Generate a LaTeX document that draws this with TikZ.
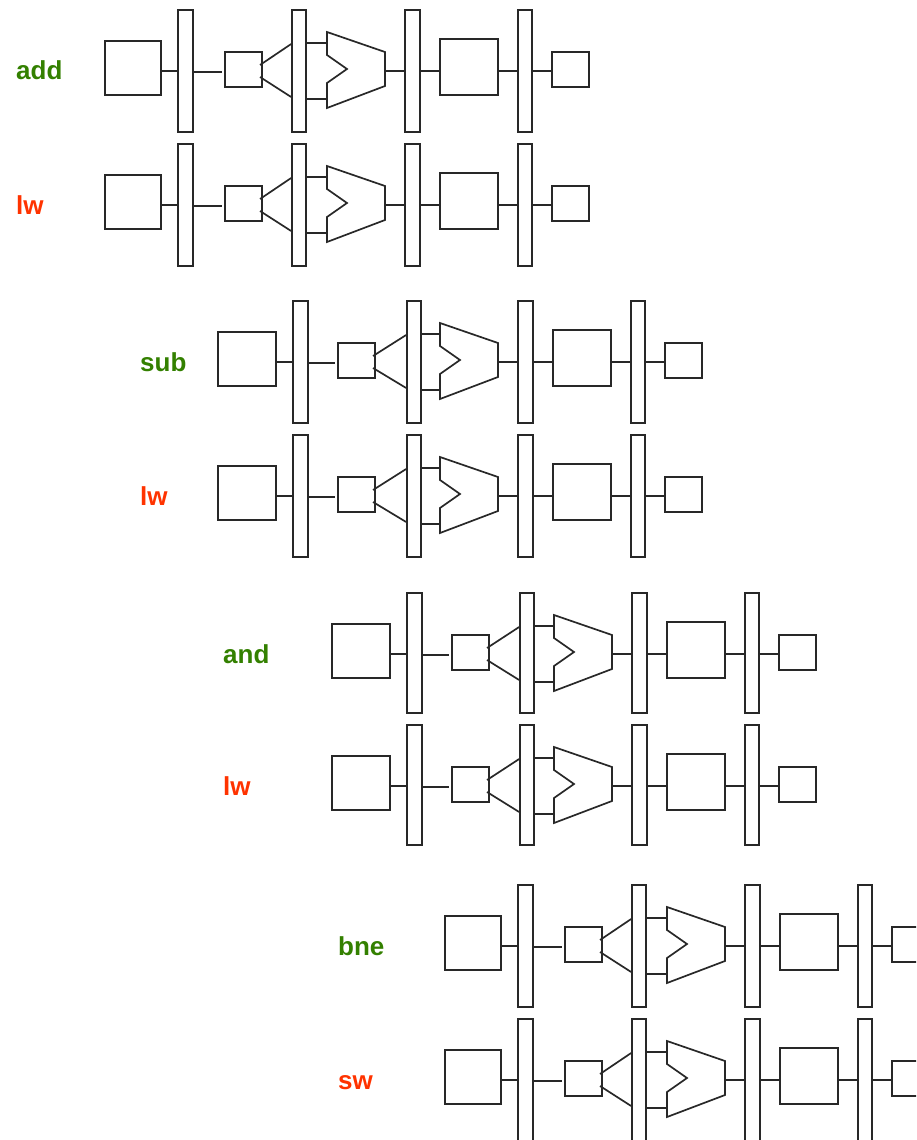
\documentclass[tikz,border=0pt]{standalone}
\usepackage{fontspec}
\setmainfont{Liberation Sans}
\usepackage{tikz}
\usetikzlibrary{positioning}
\definecolor{instgreen}{RGB}{51,128,0}
\definecolor{instred}{RGB}{255,51,0}
\definecolor{inkline}{RGB}{40,40,40}
\tikzstyle{wire} = [draw=inkline, line width=1.7pt]
\tikzstyle{pipebar} = [draw=inkline, line width=1.7pt, rectangle, inner sep=0pt, minimum width=14pt, minimum height=122pt, anchor=north]
\tikzstyle{widebar} = [pipebar, minimum width=15pt]
\tikzstyle{imbox} = [draw=inkline, line width=1.7pt, rectangle, inner sep=0pt, minimum width=56pt, minimum height=54pt, anchor=west]
\tikzstyle{dmbox} = [draw=inkline, line width=1.7pt, rectangle, inner sep=0pt, minimum width=58pt, minimum height=56pt]
\tikzstyle{smallbox} = [draw=inkline, line width=1.7pt, rectangle, inner sep=0pt, minimum width=37pt, minimum height=35pt]
\tikzstyle{firstinst} = [text=instgreen, font=\bfseries\fontsize{26}{26}\selectfont, inner sep=0pt, anchor=base west]
\tikzstyle{secondinst} = [text=instred, font=\bfseries\fontsize{26}{26}\selectfont, inner sep=0pt, anchor=base west]
\newcommand{\lanewire}[3]{\draw[wire] (#1.east |- #3) -- (#2.west |- #3);}
% one instruction: name, x shift, y shift, shift of the first bar, shift of the second bar
\newcommand{\pipeline}[5]{%
	\begin{scope}[shift={(#2,#3)}]
		\coordinate (#1lane) at (0,71);
		\node [imbox] (#1im) at (104,68) {};
		\node [widebar] (#1ifid) at (185.5+#4,9) {};
		\node [smallbox] (#1reg) at (243.5,69.5) {};
		\node [pipebar] (#1idex) at (299+#5,9) {};
		\coordinate (#1regtop) at (260,65);
		\coordinate (#1regbot) at (260,77);
		\coordinate (#1idextop) at (#1idex.west |- 0,44);
		\coordinate (#1idexbot) at (#1idex.west |- 0,97);
		\coordinate (#1aluin) at (327,43);
		\coordinate (#1alubin) at (327,99);
		\coordinate (#1aluout) at (385,71);
		\draw[wire, line join=miter] (327,32) -- (385,52) -- (#1aluout) -- (385,86) -- (327,108) -- (#1alubin) -- (327,83) -- (347,69) -- (327,55) -- (#1aluin) -- cycle;
		\node [widebar] (#1exmem) at (412.5,9) {};
		\node [dmbox] (#1dm) at (469,67) {};
		\node [pipebar] (#1memwb) at (525,9) {};
		\node [smallbox] (#1wb) at (570.5,69.5) {};
		\lanewire{#1im}{#1ifid}{#1lane}
		\draw[wire, shorten >=2pt] (#1ifid.east |- 0,72) -- (#1reg.west |- 0,72);
		\draw[wire] (#1regtop) -- (#1idextop);
		\draw[wire] (#1regbot) -- (#1idexbot);
		\draw[wire] (#1idex.east |- #1aluin) -- (#1aluin);
		\draw[wire] (#1idex.east |- #1alubin) -- (#1alubin);
		\draw[wire] (#1aluout) -- (#1exmem.west |- #1aluout);
		\lanewire{#1exmem}{#1dm}{#1lane}
		\lanewire{#1dm}{#1memwb}{#1lane}
		\lanewire{#1memwb}{#1wb}{#1lane}
	\end{scope}
}
\begin{document}
\begin{tikzpicture}[x=1pt,y=-1pt]
	\useasboundingbox (0,0) rectangle (916,1140);
	\clip (0,0) rectangle (916,1140);
	\node [firstinst] (addname) at (16,80) {add};
	\node [secondinst] (lwnamea) at (16,214) {lw};
	\node [firstinst] (subname) at (140,371) {sub};
	\node [secondinst] (lwnameb) at (140,505) {lw};
	\node [firstinst] (andname) at (223,663) {and};
	\node [secondinst] (lwnamec) at (223,795) {lw};
	\node [firstinst] (bnename) at (338,955) {bne};
	\node [secondinst] (swname) at (338,1089) {sw};
	\pipeline{add}{0}{0}{0}{0}
	\pipeline{lwa}{0}{134}{0}{0}
	\begin{scope}[imbox/.append style={minimum width=58pt}]
		\pipeline{sub}{113}{291}{2}{2}
		\pipeline{lwb}{113}{425}{2}{2}
		\begin{scope}[pipebar/.append style={minimum height=120pt}]
			\pipeline{and}{227}{583}{2}{1}
			\pipeline{lwc}{227}{715}{2}{1}
		\end{scope}
	\end{scope}
	\pipeline{bne}{340}{875}{0}{0}
	\pipeline{sw}{340}{1009}{0}{0}
\end{tikzpicture}
\end{document}
